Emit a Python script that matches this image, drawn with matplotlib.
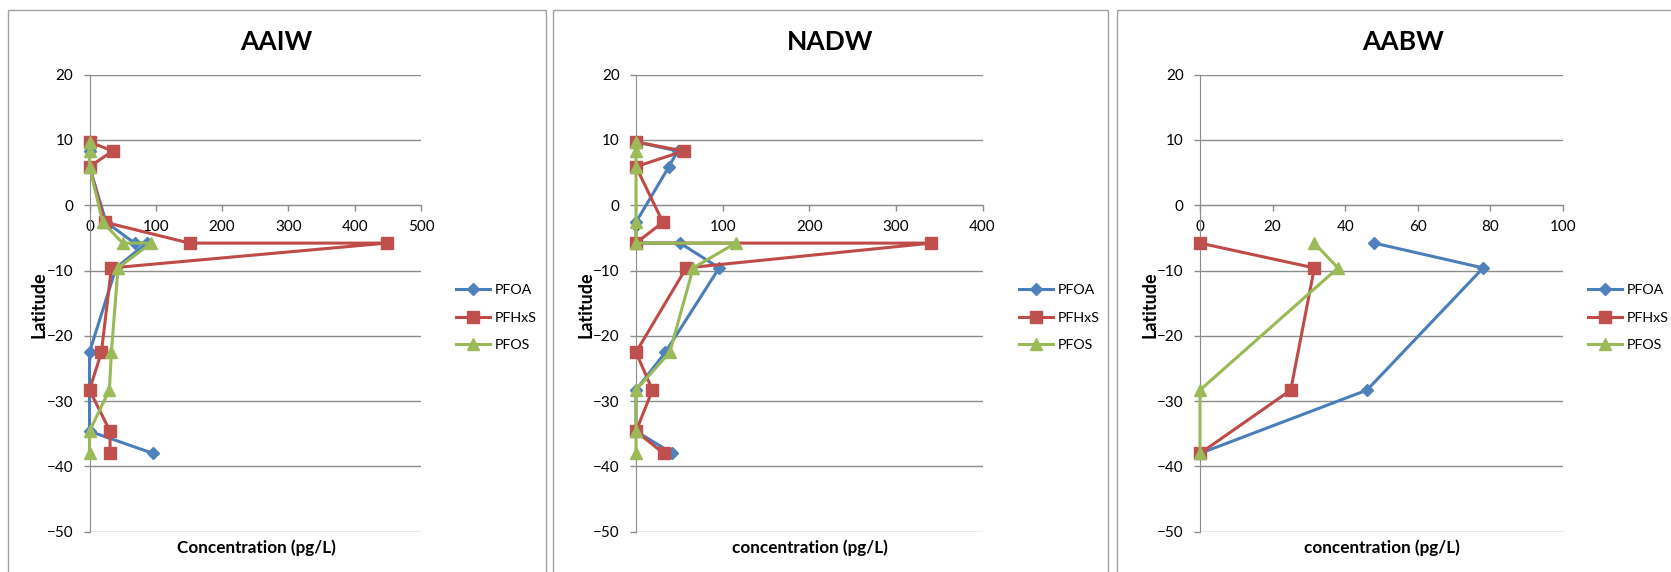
import matplotlib
matplotlib.use("Agg")
import matplotlib.pyplot as plt
from matplotlib.patches import Rectangle
from matplotlib.lines import Line2D

plt.rcParams['font.family'] = ['Lato', 'DejaVu Sans']

# ---- data ----
series_names = ["PFOA", "PFHxS", "PFOS"]
lat_full = [9.7, 8.3, 5.9, -2.6, -5.8, -5.8, -9.6, -22.5, -28.3, -34.6, -38.0]
lat_aabw = [-5.8, -9.6, -28.3, -38.0]

aaiw_pfoa = [0, 0, 0, 25, 68, 86, 40, 0, 0, 0, 96]
aaiw_pfhxs = [0, 35, 0, 23, 151, 448, 33, 18, 0, 31, 31]
aaiw_pfos = [0, 0, 0, 20, 50, 93, 43, 33, 30, 0, 0]

nadw_pfoa = [0, 48, 38, 0, 0, 51, 96, 34, 0, 0, 42]
nadw_pfhxs = [0, 55, 0, 31, 0, 341, 58, 0, 19, 0, 32]
nadw_pfos = [0, 0, 0, 0, 0, 115, 66, 39, 0, 0, 0]

aabw_pfoa = [48, 78, 46, 0]
aabw_pfhxs = [0, 31.5, 25, 0]
aabw_pfos = [31.5, 38, 0, 0]

titles = ["AAIW", "NADW", "AABW"]
xlabels = ["Concentration (pg/L)", "concentration (pg/L)", "concentration (pg/L)"]
xmax = [500, 400, 100]
xstep = [100, 100, 20]
yticks = [20, 10, 0, -10, -20, -30, -40, -50]

# ---- styling ----
colors = ["#4A7EBB", "#BE4B48", "#98B954"]
mfc = ["#4F81BD", "#C0504D", "#9BBB59"]
markers = ["D", "s", "^"]
msizes = [6, 8.5, 9]
grid_c = "#8C8C8C"

W, H = 1671, 572
fig = plt.figure(figsize=(W / 100, H / 100), dpi=100)

def fx(px):
    return px / W

def fy(py):
    return 1 - py / H

# panel borders
for (x0, x1) in [(7.5, 545.5), (553, 1108), (1117, 1700)]:
    fig.patches.append(Rectangle((fx(x0), fy(600)), fx(x1 - x0), (600 - 9.5) / H,
                                 transform=fig.transFigure, fill=False,
                                 edgecolor="#A0A0A0", linewidth=1.0, zorder=0))

axes_px = [(89.5, 421), (636, 982.5), (1200, 1563)]
top_px, bot_px = 74.6, 531.8
title_x = [276, 830, 1403]
xlabel_x = [256, 810, 1382]
ylabel_x = [39, 586, 1150]
legend_x = [456, 1019, 1588]

data = [
    (lat_full, [aaiw_pfoa, aaiw_pfhxs, aaiw_pfos]),
    (lat_full, [nadw_pfoa, nadw_pfhxs, nadw_pfos]),
    (lat_aabw, [aabw_pfoa, aabw_pfhxs, aabw_pfos]),
]

for i in range(3):
    l, r = axes_px[i]
    ax = fig.add_axes([fx(l), fy(bot_px), fx(r - l), (bot_px - top_px) / H])
    lats, vals = data[i]
    for j in range(3):
        ax.plot(vals[j], lats, color=colors[j], lw=2.2, marker=markers[j],
                ms=msizes[j], mfc=mfc[j], mec=mfc[j], clip_on=False, zorder=3 + j)
    ax.set_xlim(0, xmax[i])
    ax.set_ylim(-50, 20)
    ax.set_xticks(list(range(0, xmax[i] + 1, xstep[i])))
    ax.set_yticks(yticks)
    ax.yaxis.grid(True, color=grid_c, lw=1.0)
    ax.set_axisbelow(True)
    for s in ["top", "right"]:
        ax.spines[s].set_visible(False)
    ax.spines["bottom"].set_position(("data", 0))
    ax.spines["bottom"].set_color(grid_c)
    ax.spines["left"].set_color(grid_c)
    ax.tick_params(axis="both", colors=grid_c, labelcolor="black", labelsize=11,
                   length=4.3, width=1.0, direction="out")
    ax.tick_params(axis="x", pad=6.5)
    ax.tick_params(axis="y", pad=7.5)

    fig.text(fx(title_x[i]), fy(42), titles[i], ha="center", va="center",
             fontsize=19, fontweight="bold")
    fig.text(fx(xlabel_x[i]), fy(548), xlabels[i], ha="center", va="center",
             fontsize=12.3, fontweight="bold")
    fig.text(fx(ylabel_x[i]), fy(305), "Latitude", ha="center", va="center",
             fontsize=13, fontweight="bold", rotation=90)

    handles = [Line2D([], [], color=colors[j], lw=2.2, marker=markers[j],
                      ms=msizes[j], mfc=mfc[j], mec=mfc[j]) for j in range(3)]
    fig.legend(handles, series_names, loc="center left",
               bbox_to_anchor=(fx(legend_x[i]), fy(317.5)), frameon=False,
               fontsize=10.3, handlelength=2.4, handletextpad=0.3,
               labelspacing=1.05, borderpad=0, borderaxespad=0)

fig.savefig("out.png", dpi=100)
